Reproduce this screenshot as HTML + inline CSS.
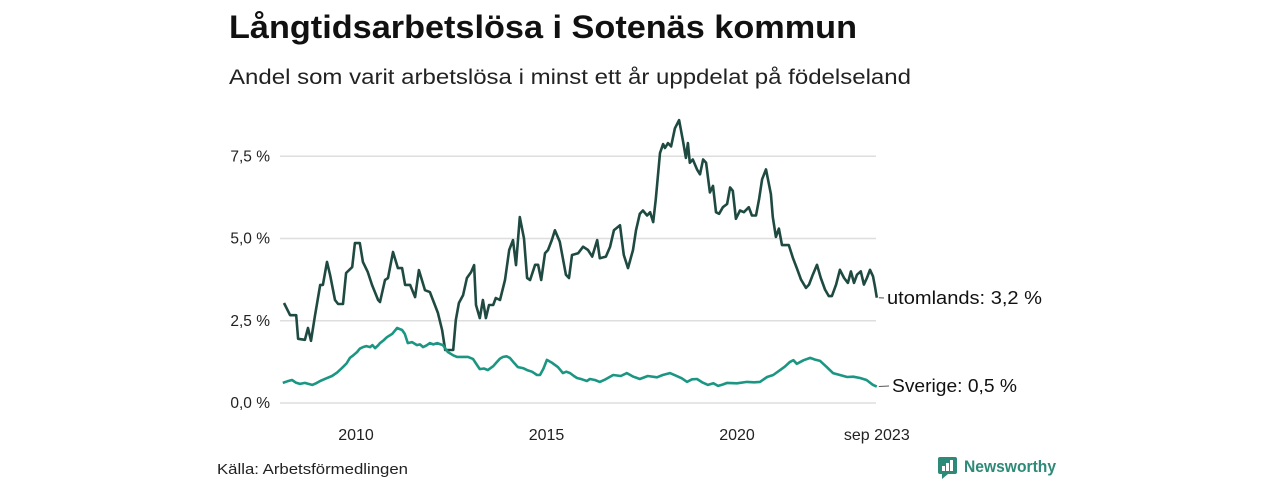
<!DOCTYPE html>
<html><head><meta charset="utf-8">
<style>
body{margin:0;background:#fff;width:1280px;height:480px;overflow:hidden;font-family:"Liberation Sans","DejaVu Sans",sans-serif;}
</style></head>
<body>
<svg id="chart" width="1280" height="480" xmlns="http://www.w3.org/2000/svg" font-family="'Liberation Sans','DejaVu Sans',sans-serif">
<text x="229" y="38" font-size="32" font-weight="bold" fill="#111" textLength="628" lengthAdjust="spacingAndGlyphs">Långtidsarbetslösa i Sotenäs kommun</text>
<text x="229" y="84" font-size="21" fill="#222" textLength="682" lengthAdjust="spacingAndGlyphs">Andel som varit arbetslösa i minst ett år uppdelat på födelseland</text>
<g id="grid"></g><g id="series"></g>
<text x="217" y="474" font-size="15" fill="#222" textLength="191" lengthAdjust="spacingAndGlyphs">Källa: Arbetsförmedlingen</text>
<g>
<rect x="938" y="457" width="19" height="17" rx="2" fill="#2e8a78"/>
<polygon points="942,474 948,474 942,479" fill="#2e8a78"/>
<rect x="942" y="466" width="3" height="5" fill="#fff"/><rect x="946" y="463" width="3" height="8" fill="#fff"/><rect x="950" y="460" width="3" height="11" fill="#fff"/>
<text x="964" y="472" font-size="16.5" font-weight="bold" fill="#2e8a78" textLength="92" lengthAdjust="spacingAndGlyphs">Newsworthy</text>
</g>
</svg>
<script>
const yTicks=[0,2.5,5,7.5];
const yTickLabels=["0,0 %","2,5 %","5,0 %","7,5 %"];
const xTicks=[2010,2015,2020,2023.67];
const xTickLabels=["2010","2015","2020","sep 2023"];
const utYears=[2008.11,2008.27,2008.43,2008.48,2008.66,2008.74,2008.82,2008.92,2009.06,2009.13,2009.24,2009.32,2009.45,2009.53,2009.66,2009.74,2009.90,2009.97,2010.10,2010.18,2010.31,2010.42,2010.58,2010.63,2010.76,2010.84,2010.97,2011.10,2011.21,2011.29,2011.42,2011.55,2011.65,2011.81,2011.94,2012.05,2012.15,2012.26,2012.34,2012.55,2012.62,2012.70,2012.81,2012.91,2013.02,2013.10,2013.15,2013.25,2013.33,2013.41,2013.49,2013.60,2013.67,2013.78,2013.91,2014.02,2014.12,2014.20,2014.30,2014.41,2014.49,2014.57,2014.70,2014.78,2014.86,2014.96,2015.04,2015.14,2015.22,2015.35,2015.51,2015.59,2015.67,2015.83,2015.96,2016.09,2016.20,2016.33,2016.40,2016.56,2016.67,2016.77,2016.93,2017.03,2017.14,2017.27,2017.35,2017.45,2017.53,2017.64,2017.72,2017.80,2017.87,2017.98,2018.06,2018.11,2018.19,2018.27,2018.37,2018.48,2018.58,2018.66,2018.71,2018.76,2018.84,2018.95,2019.03,2019.11,2019.19,2019.29,2019.37,2019.45,2019.53,2019.63,2019.74,2019.82,2019.89,2019.97,2020.08,2020.18,2020.31,2020.39,2020.50,2020.58,2020.66,2020.76,2020.89,2020.94,2021.02,2021.10,2021.18,2021.36,2021.47,2021.57,2021.68,2021.81,2021.89,2021.99,2022.10,2022.20,2022.31,2022.41,2022.49,2022.60,2022.70,2022.81,2022.91,2022.99,2023.07,2023.15,2023.25,2023.33,2023.41,2023.49,2023.57,2023.62,2023.67];
const utValues=[3.04,2.67,2.67,1.95,1.92,2.28,1.89,2.64,3.59,3.59,4.29,3.89,3.13,3.01,3.01,3.95,4.13,4.86,4.86,4.29,3.98,3.59,3.13,3.07,3.74,3.80,4.59,4.10,4.10,3.59,3.59,3.22,4.04,3.43,3.37,3.04,2.74,2.22,1.61,1.61,2.52,3.04,3.28,3.80,3.98,4.19,2.98,2.58,3.13,2.58,2.98,2.98,3.19,3.13,3.74,4.65,4.95,4.19,5.65,5.0,3.8,3.74,4.2,4.2,3.74,4.55,4.65,4.95,5.25,4.9,3.9,3.8,4.5,4.55,4.75,4.65,4.45,4.95,4.4,4.45,4.75,5.25,5.4,4.5,4.1,4.65,5.25,5.75,5.85,5.7,5.8,5.5,6.2,7.6,7.87,7.75,7.9,7.8,8.35,8.6,7.98,7.45,7.9,7.3,7.4,7.1,6.95,7.4,7.3,6.4,6.6,5.8,5.75,5.95,6.05,6.55,6.45,5.6,5.85,5.8,5.95,5.7,5.7,6.2,6.8,7.1,6.35,5.65,5.05,5.3,4.8,4.8,4.4,4.1,3.75,3.5,3.6,3.9,4.2,3.8,3.45,3.25,3.25,3.6,4.05,3.8,3.65,4.0,3.65,3.9,4.0,3.6,3.8,4.05,3.85,3.55,3.2];
const seYears=[2008.08,2008.2,2008.32,2008.42,2008.53,2008.66,2008.75,2008.85,2008.95,2009.06,2009.2,2009.37,2009.5,2009.63,2009.75,2009.84,2009.93,2010.03,2010.1,2010.18,2010.27,2010.37,2010.43,2010.50,2010.58,2010.63,2010.72,2010.81,2010.95,2011.08,2011.21,2011.28,2011.36,2011.47,2011.60,2011.68,2011.76,2011.85,2011.94,2012.03,2012.13,2012.28,2012.41,2012.55,2012.65,2012.81,2012.94,2013.07,2013.15,2013.25,2013.36,2013.46,2013.6,2013.70,2013.78,2013.86,2013.95,2014.04,2014.15,2014.25,2014.38,2014.49,2014.62,2014.75,2014.83,2014.92,2015.01,2015.15,2015.30,2015.43,2015.52,2015.62,2015.72,2015.80,2015.93,2016.06,2016.14,2016.27,2016.40,2016.55,2016.75,2016.95,2017.11,2017.28,2017.45,2017.66,2017.9,2018.05,2018.24,2018.4,2018.55,2018.69,2018.82,2018.95,2019.1,2019.24,2019.38,2019.50,2019.62,2019.74,2020.0,2020.26,2020.45,2020.60,2020.79,2020.95,2021.13,2021.25,2021.39,2021.48,2021.57,2021.75,2021.92,2022.05,2022.18,2022.35,2022.52,2022.7,2022.89,2023.05,2023.23,2023.4,2023.57,2023.67];
const seValues=[0.61,0.66,0.70,0.62,0.58,0.61,0.58,0.55,0.6,0.67,0.74,0.82,0.92,1.06,1.2,1.37,1.45,1.55,1.65,1.70,1.73,1.70,1.76,1.67,1.75,1.82,1.9,2.0,2.1,2.28,2.22,2.1,1.82,1.85,1.76,1.78,1.70,1.75,1.82,1.78,1.82,1.76,1.55,1.45,1.40,1.40,1.40,1.34,1.2,1.03,1.05,1.0,1.12,1.25,1.35,1.40,1.42,1.37,1.22,1.09,1.06,1.0,0.95,0.85,0.85,1.05,1.31,1.22,1.09,0.91,0.95,0.91,0.82,0.76,0.72,0.67,0.73,0.7,0.64,0.72,0.85,0.82,0.91,0.8,0.73,0.82,0.78,0.85,0.91,0.83,0.75,0.64,0.72,0.73,0.62,0.55,0.6,0.52,0.56,0.61,0.6,0.64,0.63,0.64,0.79,0.85,1.0,1.1,1.25,1.3,1.19,1.3,1.37,1.32,1.28,1.1,0.91,0.85,0.79,0.8,0.76,0.7,0.55,0.5];
const seriesNames=["utomlands","Sverige"];
const endLabels=["utomlands: 3,2 %","Sverige: 0,5 %"];
const endLabelWidths=[155,125];

const X=y=>356+(y-2010)*38.1;
const Y=v=>403-v*32.9;
const NS="http://www.w3.org/2000/svg";
const grid=document.getElementById('grid'),ser=document.getElementById('series');
function mk(tag,attrs,parent){const e=document.createElementNS(NS,tag);for(const k in attrs)e.setAttribute(k,attrs[k]);parent.appendChild(e);return e;}
yTicks.forEach((t,i)=>{
  const l=mk('line',{x1:280,x2:876,y1:Y(t),y2:Y(t),stroke:'#dedede','stroke-width':1.5},grid);
  
  
  const tx=mk('text',{x:270,y:Y(t)+5,'text-anchor':'end','font-size':15.5,fill:'#222'},grid);
  tx.textContent=yTickLabels[i];
  
  
});
xTicks.forEach((t,i)=>{
  const tx=mk('text',{x:X(t),y:440,'text-anchor':'middle','font-size':16,fill:'#222'},grid);
  tx.textContent=xTickLabels[i];
  
  
});
function draw(xs,vs,color,idx,ly,lx){
  const d=xs.map((x,i)=>(i?'L':'M')+X(x).toFixed(1)+','+Y(vs[i]).toFixed(1)).join('');
  const p=mk('path',{d:d,fill:'none',stroke:color,'stroke-width':2.6,'stroke-linejoin':'round'},ser);
  
  
  const ex=X(xs[xs.length-1]),ey=Y(vs[vs.length-1]);
  const t=mk('line',{x1:ex+2,x2:lx-3,y1:ey,y2:ly-6,stroke:'#555','stroke-width':1},ser);
  
  
  const tx=mk('text',{x:lx,y:ly,'font-size':18,fill:'#111',textLength:endLabelWidths[idx],lengthAdjust:'spacingAndGlyphs'},ser);
  tx.textContent=endLabels[idx];
  
  
}
draw(utYears,utValues,'#1f4a41',0,304,887);
draw(seYears,seValues,'#1b9683',1,392,892);
</script>
</body></html>
